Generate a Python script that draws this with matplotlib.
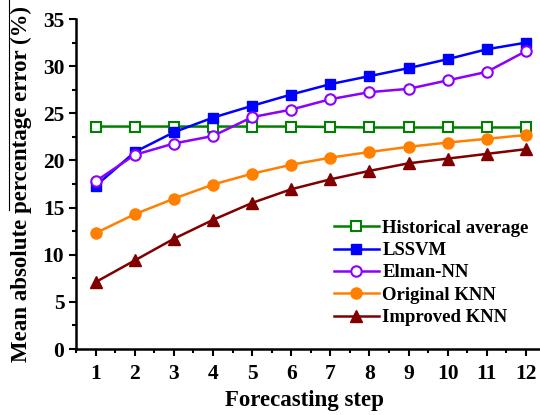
import numpy as np
import matplotlib
matplotlib.use("Agg")
import matplotlib.pyplot as plt
from matplotlib.lines import Line2D
from matplotlib.ticker import MultipleLocator

plt.rcParams["font.family"] = ["Liberation Serif", "DejaVu Serif"]
plt.rcParams["font.weight"] = "bold"

# Data
steps = np.arange(1, 13)
historical = [23.6, 23.6, 23.6, 23.6, 23.6, 23.6, 23.55, 23.5, 23.5, 23.5, 23.5, 23.5]
lssvm = [17.3, 20.9, 23.0, 24.55, 25.8, 27.0, 28.1, 28.95, 29.8, 30.75, 31.8, 32.5]
elman = [17.8, 20.6, 21.8, 22.6, 24.6, 25.4, 26.5, 27.25, 27.6, 28.5, 29.4, 31.6]
original_knn = [12.3, 14.3, 15.95, 17.45, 18.6, 19.55, 20.3, 20.9, 21.45, 21.9, 22.3, 22.7]
improved_knn = [7.1, 9.4, 11.7, 13.7, 15.5, 16.95, 18.0, 18.9, 19.7, 20.2, 20.7, 21.2]

fig = plt.figure(figsize=(5.4, 4.15), dpi=100)
ax = fig.add_axes([0.141, 0.159, 0.859, 0.795])

lw = 1.8
ax.plot(steps, historical, color="#008000", lw=lw, marker="s", ms=6.5,
        mfc="white", mec="#008000", mew=1.5, label="Historical average")
ax.plot(steps, lssvm, color="#0000FF", lw=lw, marker="s", ms=7,
        mfc="#0000FF", mec="#0000FF", label="LSSVM")
ax.plot(steps, elman, color="#8B00FF", lw=lw, marker="o", ms=7.5,
        mfc="white", mec="#8B00FF", mew=1.5, label="Elman-NN")
ax.plot(steps, original_knn, color="#FF8000", lw=lw, marker="o", ms=8,
        mfc="#FF8000", mec="#FF8000", label="Original KNN")
ax.plot(steps, improved_knn, color="#800000", lw=lw, marker="^", ms=8.5,
        mfc="#800000", mec="#800000", label="Improved KNN")

ax.set_xlim(0.5, 12.36)
ax.set_ylim(0, 35)
ax.set_xticks(steps)
ax.xaxis.set_minor_locator(MultipleLocator(0.5))
ax.yaxis.set_major_locator(MultipleLocator(5))
ax.yaxis.set_minor_locator(MultipleLocator(2.5))

for s in ["top", "right"]:
    ax.spines[s].set_visible(False)
for s in ["left", "bottom"]:
    ax.spines[s].set_linewidth(1.8)

ax.tick_params(which="major", direction="out", length=5, width=1.5, labelsize=15.5)
ax.tick_params(which="minor", direction="out", length=3, width=1.5)
ax.tick_params(axis="x", which="major", pad=6)
for lab in ax.get_xticklabels() + ax.get_yticklabels():
    lab.set_fontweight("bold")

ax.set_xlabel("Forecasting step", fontsize=16.5, fontweight="bold")
ax.set_ylabel("Mean absolute percentage error (%)", fontsize=16.5, fontweight="bold")
ax.xaxis.set_label_coords(0.493, -0.124)
ax.yaxis.set_label_coords(-0.095, 0.5)

leg = ax.legend(loc="lower right", bbox_to_anchor=(1.0, 0.035), frameon=False,
                fontsize=13.5, handlelength=2.4, handletextpad=0.2, labelspacing=0.28,
                borderaxespad=0.2)
for t in leg.get_texts():
    t.set_fontweight("bold")

# thin rule beside the upper part of the y label, as in the source figure
fig.add_artist(Line2D([0.017, 0.017], [0.494, 1.0], color="black", lw=0.8))

fig.savefig("out.png", dpi=100)
